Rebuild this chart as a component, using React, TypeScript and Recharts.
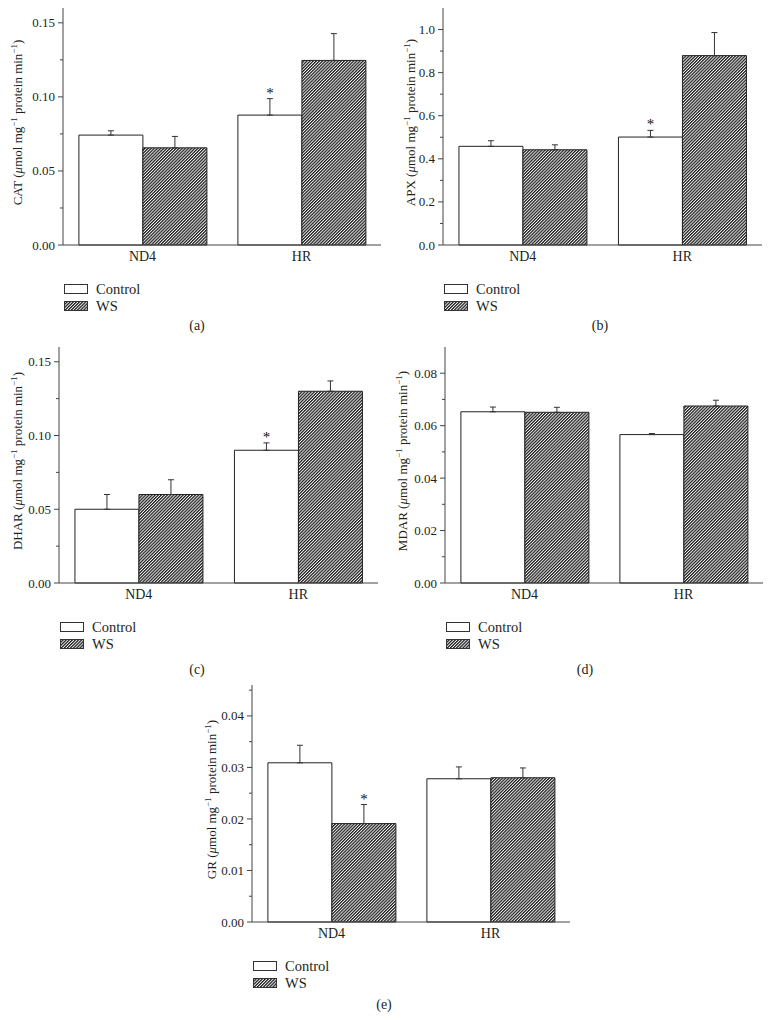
import React from "react";
import { Bar, BarChart, ErrorBar, Legend, Rectangle, XAxis, YAxis } from "recharts";

const FONT = '"Liberation Serif", "DejaVu Serif", serif';
const INK = "#231f20";
const AXIS = "#444";

const groups = ["ND4", "HR"];

// (a) CAT
const catControl = [0.0742, 0.0877];
const catControlErr = [0.0029, 0.0111];
const catControlStar = ["", "*"];
const catWS = [0.0656, 0.1246];
const catWSErr = [0.0077, 0.0181];
const catWSStar = ["", ""];
const catTicks = [0, 0.05, 0.1, 0.15];
const catMinor = [0.025, 0.075, 0.125];

// (b) APX
const apxControl = [0.458, 0.501];
const apxControlErr = [0.026, 0.031];
const apxControlStar = ["", "*"];
const apxWS = [0.442, 0.879];
const apxWSErr = [0.023, 0.107];
const apxWSStar = ["", ""];
const apxTicks = [0, 0.2, 0.4, 0.6, 0.8, 1.0];
const apxMinor = [0.1, 0.3, 0.5, 0.7, 0.9];

// (c) DHAR
const dharControl = [0.05, 0.09];
const dharControlErr = [0.01, 0.005];
const dharControlStar = ["", "*"];
const dharWS = [0.06, 0.13];
const dharWSErr = [0.01, 0.007];
const dharWSStar = ["", ""];
const dharTicks = [0, 0.05, 0.1, 0.15];
const dharMinor = [0.025, 0.075, 0.125];

// (d) MDAR
const mdarControl = [0.0653, 0.0566];
const mdarControlErr = [0.0018, 0.0004];
const mdarControlStar = ["", ""];
const mdarWS = [0.0651, 0.0675];
const mdarWSErr = [0.0019, 0.0022];
const mdarWSStar = ["", ""];
const mdarTicks = [0, 0.02, 0.04, 0.06, 0.08];
const mdarMinor = [0.01, 0.03, 0.05, 0.07];

// (e) GR
const grControl = [0.0309, 0.0278];
const grControlErr = [0.0034, 0.0023];
const grControlStar = ["", ""];
const grWS = [0.0191, 0.028];
const grWSErr = [0.0037, 0.0019];
const grWSStar = ["*", ""];
const grTicks = [0, 0.01, 0.02, 0.03, 0.04];
const grMinor = [0.005, 0.015, 0.025, 0.035, 0.045];

const buildRows = (ctrl, ctrlErr, ctrlStar, ws, wsErr, wsStar) =>
  groups.map((g, i) => ({
    group: g,
    ctrl: ctrl[i],
    ctrlErr: [0, ctrlErr[i]],
    ctrlStar: ctrlStar[i],
    ws: ws[i],
    wsErr: [0, wsErr[i]],
    wsStar: wsStar[i],
  }));

// bar plus an asterisk placed over the top of its error bar
const starShape = (key: string) => (props: any) => {
  const { x, y, width, height, payload } = props;
  const v = payload[key];
  const e = payload[key + "Err"][1];
  const star = payload[key + "Star"];
  const errTop = y - (v ? (e * height) / v : 0);
  return (
    <g>
      <Rectangle {...props} />
      {star ? (
        <text x={x + width / 2} y={errTop - 1} textAnchor="middle" fontFamily={FONT} fontSize={15} fill="#111">
          {star}
        </text>
      ) : null}
    </g>
  );
};

const YTick = (props: any) => {
  const { x, y, payload, major, decimals } = props;
  const isMajor = major.some((m: number) => Math.abs(m - payload.value) < 1e-9);
  return (
    <g>
      <line x1={x} x2={x - (isMajor ? 5 : 3)} y1={y} y2={y} stroke={AXIS} strokeWidth={1} />
      {isMajor ? (
        <text x={x - 8} y={y} dy="0.35em" textAnchor="end" fontFamily={FONT} fontSize={13} fill={INK}>
          {payload.value.toFixed(decimals)}
        </text>
      ) : null}
    </g>
  );
};

const YTitle = (props: any) => {
  const vb = props.viewBox || {};
  const cx = vb.x + vb.width + props.dx;
  const cy = vb.y + vb.height / 2 - 4;
  return (
    <text
      x={cx}
      y={cy}
      dy="0.35em"
      transform={`rotate(-90 ${cx} ${cy})`}
      textAnchor="middle"
      fontFamily={FONT}
      fontSize={13}
      fill={INK}
    >
      {props.name} (<tspan fontStyle="italic">μ</tspan>mol mg
      <tspan dy={-5} fontSize={9}>−1</tspan>
      <tspan dy={5}>  protein min</tspan>
      <tspan dy={-5} fontSize={9}>−1</tspan>
      <tspan dy={5}>)</tspan>
    </text>
  );
};

const LegendBox = (props: any) => (
  <div style={{ fontFamily: FONT, fontSize: 14.5, color: INK }}>
    {(props.payload || []).map((p: any) => (
      <div key={p.value} style={{ display: "flex", alignItems: "center", height: 17 }}>
        <svg width={25} height={11} style={{ display: "block" }}>
          <rect x={0.5} y={0.5} width={23} height={9} fill={p.color} stroke="#333" strokeWidth={1} />
        </svg>
        <span style={{ marginLeft: 7, lineHeight: "17px", fontFamily: FONT }}>{p.value}</span>
      </div>
    ))}
  </div>
);

type PanelProps = {
  id: string;
  frame: { l: number; t: number; r: number; b: number };
  title: string;
  titleDx: number;
  domain: [number, number];
  major: number[];
  minor: number[];
  decimals: number;
  rows: any[];
  caption: string;
  captionX: number;
  captionY: number;
};

const AXIS_W = 63;
const TOP_M = 8;
const RIGHT_M = 8;
const XAXIS_H = 30;
const BOTTOM_M = 72;

function Panel({ id, frame, title, titleDx, domain, major, minor, decimals, rows, caption, captionX, captionY }: PanelProps) {
  const left = frame.l - AXIS_W;
  const top = frame.t - TOP_M;
  const width = AXIS_W + (frame.r - frame.l) + RIGHT_M;
  const height = TOP_M + (frame.b - frame.t) + XAXIS_H + BOTTOM_M;
  const ticks = [...major, ...minor].sort((p, q) => p - q);
  const hatch = `hatch-${id}`;
  return (
    <>
      <div style={{ position: "absolute", left, top }}>
        <BarChart
          width={width}
          height={height}
          data={rows}
          margin={{ top: TOP_M, right: RIGHT_M, left: 0, bottom: BOTTOM_M }}
          barCategoryGap="10%"
          barGap={0}
        >
          <defs>
            <pattern id={hatch} patternUnits="userSpaceOnUse" width={2.2} height={2.2} patternTransform="rotate(45)">
              <rect width={2.2} height={2.2} fill="#f4f4f4" />
              <rect width={1.25} height={2.2} fill="#1e1e1e" />
            </pattern>
          </defs>
          <XAxis
            dataKey="group"
            tickLine={false}
            tickSize={0}
            tickMargin={6}
            height={XAXIS_H}
            axisLine={{ stroke: AXIS }}
            tick={{ fontFamily: FONT, fontSize: 14, fill: INK }}
          />
          <XAxis xAxisId="top" orientation="top" dataKey="group" tick={false} tickLine={false} height={0} axisLine={{ stroke: AXIS }} />
          <YAxis
            type="number"
            domain={domain}
            ticks={ticks}
            interval={0}
            width={AXIS_W}
            tickLine={false}
            tickSize={0}
            tickMargin={0}
            axisLine={{ stroke: AXIS }}
            tick={<YTick major={major} decimals={decimals} />}
            label={<YTitle name={title} dx={titleDx} />}
          />
          <YAxis yAxisId="right" orientation="right" type="number" domain={domain} tick={false} tickLine={false} width={0} axisLine={{ stroke: AXIS }} />
          <Bar dataKey="ctrl" name="Control" fill="#fff" stroke="#222" strokeWidth={1} isAnimationActive={false} shape={starShape("ctrl")}>
            <ErrorBar dataKey="ctrlErr" direction="y" width={3} stroke="#333" strokeWidth={1} isAnimationActive={false} />
          </Bar>
          <Bar dataKey="ws" name="WS" fill={`url(#${hatch})`} stroke="#222" strokeWidth={1} isAnimationActive={false} shape={starShape("ws")}>
            <ErrorBar dataKey="wsErr" direction="y" width={3} stroke="#333" strokeWidth={1} isAnimationActive={false} />
          </Bar>
          <Legend
            layout="vertical"
            align="center"
            verticalAlign="middle"
            content={<LegendBox />}
            wrapperStyle={{ left: AXIS_W + 1, top: frame.b + 44 - 8.5 - top, width: 120 }}
          />
        </BarChart>
      </div>
      <div
        style={{
          position: "absolute",
          left: captionX,
          top: captionY,
          transform: "translate(-50%, -50%)",
          fontFamily: FONT,
          fontSize: 14,
          color: INK,
          whiteSpace: "nowrap",
        }}
      >
        {caption}
      </div>
    </>
  );
}

export default function App() {
  return (
    <div style={{ position: "absolute", left: 0, top: 0, width: 772, height: 1020, background: "#fff", overflow: "hidden" }}>
      <Panel
        id="a"
        frame={{ l: 63, t: 8, r: 381, b: 245 }}
        title="CAT"
        titleDx={-46}
        domain={[0, 0.16]}
        major={catTicks}
        minor={catMinor}
        decimals={2}
        rows={buildRows(catControl, catControlErr, catControlStar, catWS, catWSErr, catWSStar)}
        caption="(a)"
        captionX={197}
        captionY={326}
      />
      <Panel
        id="b"
        frame={{ l: 443, t: 8, r: 762, b: 245 }}
        title="APX"
        titleDx={-33}
        domain={[0, 1.1]}
        major={apxTicks}
        minor={apxMinor}
        decimals={1}
        rows={buildRows(apxControl, apxControlErr, apxControlStar, apxWS, apxWSErr, apxWSStar)}
        caption="(b)"
        captionX={600}
        captionY={326}
      />
      <Panel
        id="c"
        frame={{ l: 59, t: 347, r: 378, b: 583 }}
        title="DHAR"
        titleDx={-42}
        domain={[0, 0.16]}
        major={dharTicks}
        minor={dharMinor}
        decimals={2}
        rows={buildRows(dharControl, dharControlErr, dharControlStar, dharWS, dharWSErr, dharWSStar)}
        caption="(c)"
        captionX={197}
        captionY={670}
      />
      <Panel
        id="d"
        frame={{ l: 445, t: 347, r: 763, b: 583 }}
        title="MDAR"
        titleDx={-43}
        domain={[0, 0.09]}
        major={mdarTicks}
        minor={mdarMinor}
        decimals={2}
        rows={buildRows(mdarControl, mdarControlErr, mdarControlStar, mdarWS, mdarWSErr, mdarWSStar)}
        caption="(d)"
        captionX={585}
        captionY={670}
      />
      <Panel
        id="e"
        frame={{ l: 252, t: 685, r: 570, b: 922 }}
        title="GR"
        titleDx={-41}
        domain={[0, 0.046]}
        major={grTicks}
        minor={grMinor}
        decimals={2}
        rows={buildRows(grControl, grControlErr, grControlStar, grWS, grWSErr, grWSStar)}
        caption="(e)"
        captionX={384}
        captionY={1005}
      />
    </div>
  );
}
